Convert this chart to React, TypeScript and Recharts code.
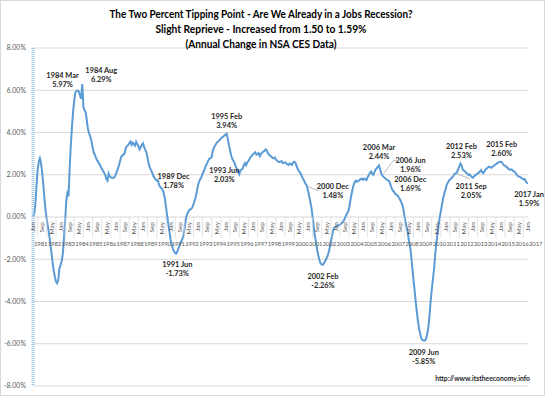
import React from 'react';
import { LineChart, Line, XAxis, YAxis, CartesianGrid, ReferenceDot } from 'recharts';

const startYear = 1981;
const monthNames = ['Jan', 'Feb', 'Mar', 'Apr', 'May', 'Jun', 'Jul', 'Aug', 'Sep', 'Oct', 'Nov', 'Dec'];
const yTicks = [-8, -6, -4, -2, 0, 2, 4, 6, 8];

const titleLines = [
  'The Two Percent Tipping Point - Are We Already in a Jobs Recession?',
  'Slight Reprieve - Increased from 1.50 to 1.59%',
  '(Annual Change in NSA CES Data)',
];
const sourceText = 'http://www.itstheeconomy.info';

// annual % change, NSA CES, monthly from Jan 1981 (one row per year)
const values = [
  0.05, 0.12, 0.55, 1.45, 2.2, 2.6, 2.78, 2.55, 2.1, 1.55, 0.85, 0.3,
  -0.1, -0.45, -0.8, -1.2, -1.64, -2.1, -2.5, -2.8, -3.05, -3.14, -3.0, -2.45,
  -2.28, -2.1, -1.75, -1.05, -0.25, 0.75, 1.12, 0.98, 2.3, 3.4, 4.25, 5.0,
  5.5, 5.9, 5.97, 5.98, 5.94, 5.75, 5.6, 6.29, 5.2, 5.05, 4.95, 4.55,
  4.15, 3.95, 3.8, 3.6, 3.3, 3.05, 2.95, 2.8, 2.68, 2.6, 2.5, 2.4,
  2.28, 2.2, 2.1, 2.0, 1.8, 1.72, 2.05, 1.92, 1.88, 1.85, 1.86, 1.88,
  1.98, 2.12, 2.28, 2.45, 2.65, 2.85, 2.92, 2.95, 3.02, 3.28, 3.35, 3.4,
  3.5, 3.57, 3.42, 3.52, 3.45, 3.38, 3.56, 3.45, 3.35, 3.2, 3.3, 3.42,
  3.49, 3.32, 3.18, 3.05, 2.8, 2.5, 2.35, 2.22, 2.1, 1.95, 1.85, 1.78,
  1.72, 1.74, 1.52, 1.42, 1.36, 1.3, 1.15, 0.9, 0.5, 0.1, -0.3, -0.65,
  -1.05, -1.3, -1.48, -1.62, -1.7, -1.73, -1.62, -1.48, -1.33, -1.2, -1.08, -0.95,
  -0.7, -0.25, 0.05, 0.18, 0.3, 0.35, 0.38, 0.45, 0.6, 0.75, 0.95, 1.2,
  1.5, 1.68, 1.8, 1.88, 2.05, 2.15, 2.3, 2.45, 2.55, 2.68, 2.76, 2.78,
  2.85, 3.15, 3.3, 3.38, 3.48, 3.55, 3.6, 3.65, 3.72, 3.77, 3.8, 3.86,
  3.9, 3.94, 3.7, 3.4, 3.15, 2.9, 2.75, 2.65, 2.55, 2.38, 2.25, 2.15,
  2.03, 2.2, 2.25, 2.3, 2.45, 2.55, 2.45, 2.58, 2.65, 2.75, 2.85, 2.9,
  2.97, 3.02, 3.06, 2.95, 2.98, 3.02, 2.88, 2.98, 3.05, 3.1, 3.13, 3.2,
  3.15, 3.02, 2.96, 2.9, 2.86, 2.8, 2.78, 2.82, 2.72, 2.68, 2.62, 2.6,
  2.62, 2.65, 2.55, 2.56, 2.59, 2.54, 2.5, 2.46, 2.54, 2.5, 2.47, 2.58,
  2.62, 2.58, 2.42, 2.28, 2.18, 2.12, 2.0, 1.88, 1.78, 1.67, 1.56, 1.48,
  1.25, 1.0, 0.72, 0.45, 0.0, -0.45, -0.9, -1.2, -1.55, -1.82, -2.05, -2.2,
  -2.24, -2.26, -2.18, -2.08, -1.98, -1.85, -1.68, -1.45, -1.15, -0.9, -0.62, -0.5,
  -0.46, -0.45, -0.4, -0.38, -0.36, -0.32, -0.25, -0.2, -0.08, 0.05, 0.15, 0.25,
  0.45, 0.8, 1.08, 1.35, 1.55, 1.67, 1.72, 1.68, 1.7, 1.75, 1.8, 1.82,
  1.76, 1.82, 1.78, 1.75, 1.88, 1.98, 2.08, 2.15, 2.05, 1.99, 2.12, 2.25,
  2.3, 2.38, 2.44, 2.25, 2.05, 1.96, 1.9, 1.85, 1.8, 1.76, 1.72, 1.69,
  1.52, 1.38, 1.25, 1.2, 1.1, 1.06, 1.03, 0.95, 0.85, 0.75, 0.62, 0.45,
  0.1, -0.2, -0.46, -0.72, -1.1, -1.35, -1.8, -2.4, -2.95, -3.45, -4.0, -4.5,
  -4.95, -5.3, -5.55, -5.75, -5.83, -5.85, -5.85, -5.78, -5.55, -5.25, -4.7, -4.0,
  -3.45, -2.95, -2.45, -1.8, -1.25, -0.8, -0.35, 0.0, 0.3, 0.6, 0.9, 1.12,
  1.3, 1.52, 1.62, 1.72, 1.78, 1.83, 1.88, 1.95, 2.05, 2.06, 2.12, 2.25,
  2.4, 2.53, 2.45, 2.25, 2.2, 2.15, 2.1, 2.05, 1.99, 2.02, 1.95, 1.9,
  1.86, 1.92, 1.98, 2.02, 2.06, 2.1, 2.15, 2.22, 2.12, 2.08, 2.16, 2.25,
  2.3, 2.34, 2.38, 2.36, 2.33, 2.38, 2.42, 2.46, 2.5, 2.54, 2.58, 2.6,
  2.62, 2.6, 2.52, 2.45, 2.42, 2.39, 2.33, 2.28, 2.23, 2.26, 2.24, 2.18,
  2.15, 2.1, 2.02, 1.94, 1.91, 1.9, 1.85, 1.82, 1.78, 1.8, 1.7, 1.62,
  1.59,
];

// callouts: point they sit on, and the two lines of text
const notes = [
  { at: '1984 Mar', name: '1984 Mar', pct: '5.97%' },
  { at: '1984 Aug', name: '1984 Aug', pct: '6.29%' },
  { at: '1989 Dec', name: '1989 Dec', pct: '1.78%' },
  { at: '1991 Jun', name: '1991 Jun', pct: '-1.73%' },
  { at: '1995 Feb', name: '1995 Feb', pct: '3.94%' },
  { at: '1996 Jan', name: '1993 Jun', pct: '2.03%' },
  { at: '2000 Dec', name: '2000 Dec', pct: '1.48%' },
  { at: '2002 Feb', name: '2002 Feb', pct: '-2.26%' },
  { at: '2006 Mar', name: '2006 Mar', pct: '2.44%' },
  { at: '2006 Jun', name: '2006 Jun', pct: '1.96%' },
  { at: '2006 Dec', name: '2006 Dec', pct: '1.69%' },
  { at: '2009 Jun', name: '2009 Jun', pct: '-5.85%' },
  { at: '2011 Sep', name: '2011 Sep', pct: '2.05%' },
  { at: '2012 Feb', name: '2012 Feb', pct: '2.53%' },
  { at: '2015 Feb', name: '2015 Feb', pct: '2.60%' },
  { at: '2017 Jan', name: '2017 Jan', pct: '1.59%' },
];

// text offset from the point, plus optional leader line
const noteOffsets: { dx: number; dy: number; lead?: number[] }[] = [
  { dx: -14, dy: -13 },
  { dx: 19, dy: -11 },
  { dx: 18, dy: 0 },
  { dx: 1, dy: 13.5 },
  { dx: 0, dy: -15 },
  { dx: -15, dy: -1 },
  { dx: 26, dy: 3.5, lead: [1.5, 1, 12, 5] },
  { dx: 0, dy: 14.5 },
  { dx: 0, dy: -15.5 },
  { dx: 28, dy: -13, lead: [1, -2, 11, -15, 14, -15] },
  { dx: 21, dy: 1 },
  { dx: 0, dy: 14.5 },
  { dx: 16.5, dy: 15, lead: [2, 0, 15, 5] },
  { dx: 1, dy: -14.5 },
  { dx: 0, dy: -15 },
  { dx: 1, dy: 13.5 },
];

const W = 545;
const H = 396;
const M = { top: 48, right: 17, bottom: 9, left: 0 };
const AXIS_H = 1;
const plotH = H - M.top - M.bottom - AXIS_H;
const zeroY = M.top + plotH * (8 / 16);
const FONT = 'Lato, "Open Sans", sans-serif';

const data = values.map((v, i) => ({
  key: `${startYear + Math.floor(i / 12)} ${monthNames[i % 12]}`,
  v,
}));
const indexOf: Record<string, number> = {};
data.forEach((d, i) => { indexOf[d.key] = i; });

const CategoryTick = (props: any) => {
  const { x, payload } = props;
  const i = indexOf[payload.value];
  if (i === undefined) return null;
  const [year, mon] = String(payload.value).split(' ');
  const ty = zeroY + 5;
  return (
    <g>
      {i % 8 === 0 && (
        <text
          x={x}
          y={ty}
          dy="0.35em"
          transform={`rotate(-90, ${x}, ${ty})`}
          textAnchor="end"
          fontSize={6.5}
          fill="#595959"
          fontFamily={FONT}
        >
          {mon}
        </text>
      )}
      {i % 8 === 4 && (
        <line x1={x} x2={x} y1={zeroY} y2={zeroY + 21} stroke="#D9D9D9" strokeWidth={0.7} />
      )}
      {i % 12 === 0 && (
        <text
          x={x + 1}
          y={zeroY + 29}
          fontSize={6}
          letterSpacing={-0.15}
          fill="#595959"
          fontFamily={FONT}
        >
          {year}
        </text>
      )}
    </g>
  );
};

const noteLabel = (n: { name: string; pct: string }, off: { dx: number; dy: number; lead?: number[] }) =>
  (props: any) => {
    const vb = props.viewBox || { x: 0, y: 0, width: 0, height: 0 };
    const cx = vb.x + (vb.width || 0) / 2;
    const cy = vb.y + (vb.height || 0) / 2;
    const tx = cx + off.dx;
    const ty = cy + off.dy;
    let lead = null;
    if (off.lead) {
      const pts = [];
      for (let k = 0; k < off.lead.length; k += 2) pts.push(`${cx + off.lead[k]},${cy + off.lead[k + 1]}`);
      lead = <polyline points={pts.join(' ')} fill="none" stroke="#A6A6A6" strokeWidth={0.8} />;
    }
    return (
      <g>
        {lead}
        <text textAnchor="middle" fontSize={7.4} fontWeight="bold" fill="#262626" fontFamily={FONT}>
          <tspan x={tx} y={ty}>{n.name}</tspan>
          <tspan x={tx} y={ty + 9}>{n.pct}</tspan>
        </text>
      </g>
    );
  };

const TITLE_W = [303, 211, 151];

export default function App() {
  return (
    <div style={{ position: 'relative', width: W, height: H, background: '#fff', fontFamily: FONT }}>
      <style>{'body{margin:0}'}</style>
      <LineChart width={W} height={H} data={data} margin={M}>
        <CartesianGrid vertical={false} stroke="#D9D9D9" />
        <XAxis
          dataKey="key"
          type="category"
          scale="point"
          padding={{ left: 0, right: 0 }}
          interval={0}
          height={AXIS_H}
          tickLine={false}
          axisLine={false}
          tick={<CategoryTick />}
        />
        <YAxis
          type="number"
          domain={[-8, 8]}
          ticks={yTicks}
          interval={0}
          width={33}
          tickSize={0}
          tickMargin={7}
          tickLine={false}
          tickFormatter={(v: number) => `${v.toFixed(2)}%`}
          tick={{ fontSize: 7, fill: '#595959', fontFamily: FONT }}
          axisLine={{ stroke: '#9DC3E6', strokeWidth: 3, strokeDasharray: '1 1' }}
        />
        <Line
          type="linear"
          dataKey="v"
          stroke="#5B9BD5"
          strokeWidth={2}
          dot={false}
          isAnimationActive={false}
        />
        {notes.map((n, k) => (
          <ReferenceDot
            key={n.at}
            x={n.at}
            y={values[indexOf[n.at]]}
            r={1}
            fill="none"
            stroke="none"
            ifOverflow="visible"
            label={noteLabel(n, noteOffsets[k])}
          />
        ))}
      </LineChart>
      <svg width={W} height={H} style={{ position: 'absolute', left: 0, top: 0, pointerEvents: 'none' }}>
        {titleLines.map((t, k) => (
          <text
            key={t}
            x={261}
            y={18 + k * 15}
            textAnchor="middle"
            fontSize={12}
            fontWeight="bold"
            fill="#000"
            fontFamily={FONT}
            textLength={TITLE_W[k]}
            lengthAdjust="spacingAndGlyphs"
          >
            {t}
          </text>
        ))}
        <text x={530} y={381} textAnchor="end" fontSize={6.8} fontWeight="bold" fill="#262626" fontFamily={FONT}>
          {sourceText}
        </text>
        <rect x={0.5} y={0.5} width={W - 1} height={H - 1} fill="none" stroke="#D9D9D9" />
      </svg>
    </div>
  );
}
